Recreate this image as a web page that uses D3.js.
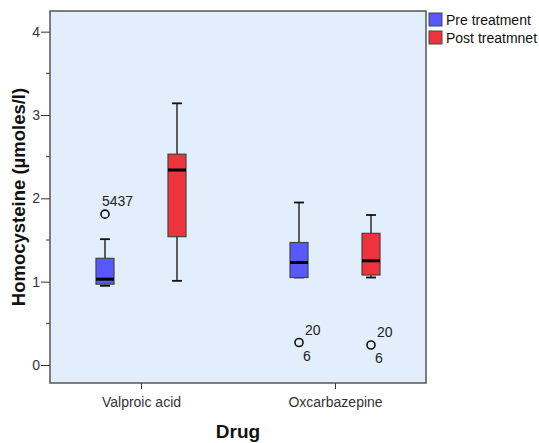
<!DOCTYPE html>
<html>
<head>
<meta charset="utf-8">
<script src="https://cdn.jsdelivr.net/npm/d3@7"></script>
<style>
  body { margin: 0; background: #fff; }
  text { font-family: "Liberation Sans", Arial, sans-serif; }
</style>
</head>
<body>
<svg id="chart" width="539" height="443"></svg>
<script>
// chart data
const drugs = ['Valproic acid', 'Oxcarbazepine']
const groups = ['Pre treatment', 'Post treatmnet']
const groupColors = ['#5858ff', '#f0323c']
// [whiskerLow, q1, median, q3, whiskerHigh] per drug, per group
const preStats = [[0.95, 0.97, 1.03, 1.28, 1.51], [1.05, 1.05, 1.23, 1.47, 1.95]]
const postStats = [[1.01, 1.54, 2.34, 2.53, 3.14], [1.05, 1.08, 1.25, 1.58, 1.80]]
// outliers: [drugIndex, groupIndex, value, labelAbove, labelBelow]
const outliers = [
    [0, 0, 1.81, '5437', ''],
    [1, 0, 0.27, '20', '6'],
    [1, 1, 0.24, '20', '6']
]
const yTicks = [0, 1, 2, 3, 4]
const yMinorTicks = [0.5, 1.5, 2.5, 3.5]

const plot = { left: 50, right: 426, top: 11, bottom: 383 }
const svg = d3.select('#chart')

const xScale = d3.scalePoint()
    .domain(drugs)
    .range([plot.left, plot.right])
    .padding(0.469)

const yScale = d3.scaleLinear()
    .domain([-0.216, 4.248])
    .range([plot.bottom, plot.top])

const offset = d3.scalePoint().domain(groups).range([-36, 36])
const boxW = 18

// plot background
svg.append('rect')
    .attr('x', plot.left).attr('y', plot.top)
    .attr('width', plot.right - plot.left).attr('height', plot.bottom - plot.top)
    .attr('fill', '#e2eefb')

// y axis
const yAxis = d3.axisLeft(yScale).tickValues(yTicks).tickSize(9).tickFormat(d3.format('d'))
const gy = svg.append('g')
    .attr('transform', 'translate(' + plot.left + ',0)')
    .call(yAxis)
gy.select('.domain').remove()
gy.selectAll('line').attr('stroke', '#333')
gy.selectAll('text').attr('fill', '#333').style('font-size', '14px').attr('x', -10)

svg.append('g').selectAll('line')
    .data(yMinorTicks)
    .join('line')
    .attr('x1', plot.left - 4).attr('x2', plot.left)
    .attr('y1', d => yScale(d)).attr('y2', d => yScale(d))
    .attr('stroke', '#333')

// x axis
const xAxis = d3.axisBottom(xScale).tickSize(6)
const gx = svg.append('g')
    .attr('transform', 'translate(0,' + plot.bottom + ')')
    .call(xAxis)
gx.select('.domain').remove()
gx.selectAll('line').attr('stroke', '#333')
gx.selectAll('text').attr('fill', '#333').style('font-size', '14px').attr('y', 14)

// boxes
const boxData = []
drugs.forEach((d, i) => {
    boxData.push({ drug: d, group: groups[0], color: groupColors[0], s: preStats[i] })
    boxData.push({ drug: d, group: groups[1], color: groupColors[1], s: postStats[i] })
})

const boxes = svg.append('g').selectAll('g')
    .data(boxData)
    .join('g')
    .attr('transform', d => 'translate(' + (xScale(d.drug) + offset(d.group)) + ',0)')

boxes.append('line')
    .attr('x1', 0).attr('x2', 0)
    .attr('y1', d => yScale(d.s[0])).attr('y2', d => yScale(d.s[4]))
    .attr('stroke', '#111').attr('stroke-width', 1.3)
boxes.append('line')
    .attr('x1', -5).attr('x2', 5)
    .attr('y1', d => yScale(d.s[4])).attr('y2', d => yScale(d.s[4]))
    .attr('stroke', '#111').attr('stroke-width', 1.8)
boxes.append('line')
    .attr('x1', -5).attr('x2', 5)
    .attr('y1', d => yScale(d.s[0])).attr('y2', d => yScale(d.s[0]))
    .attr('stroke', '#111').attr('stroke-width', 1.8)
boxes.append('rect')
    .attr('x', -boxW / 2).attr('width', boxW)
    .attr('y', d => yScale(d.s[3]))
    .attr('height', d => yScale(d.s[1]) - yScale(d.s[3]))
    .attr('fill', d => d.color)
    .attr('stroke', '#444').attr('stroke-width', 1.2)
boxes.append('line')
    .attr('x1', -boxW / 2).attr('x2', boxW / 2)
    .attr('y1', d => yScale(d.s[2])).attr('y2', d => yScale(d.s[2]))
    .attr('stroke', '#000').attr('stroke-width', 3)

// outliers
const outs = svg.append('g').selectAll('g')
    .data(outliers)
    .join('g')
    .attr('transform', d => 'translate(' + (xScale(drugs[d[0]]) + offset(groups[d[1]])) + ',' + yScale(d[2]) + ')')
outs.append('circle')
    .attr('r', 4)
    .attr('fill', 'none')
    .attr('stroke', '#111').attr('stroke-width', 1.6)
outs.append('text')
    .attr('x', d => d[3].length > 2 ? -3 : 6).attr('y', -8)
    .attr('fill', '#222').style('font-size', '14px')
    .text(d => d[3])
outs.append('text')
    .attr('x', 4).attr('y', 18)
    .attr('fill', '#222').style('font-size', '14px')
    .text(d => d[4])

// frame
svg.append('rect')
    .attr('x', plot.left).attr('y', plot.top)
    .attr('width', plot.right - plot.left).attr('height', plot.bottom - plot.top)
    .attr('fill', 'none')
    .attr('stroke', '#555').attr('stroke-width', 1.5)

// axis titles
svg.append('text')
    .attr('x', (plot.left + plot.right) / 2).attr('y', 438)
    .attr('text-anchor', 'middle')
    .style('font-size', '19px').style('font-weight', 'bold')
    .attr('fill', '#111')
    .text('Drug')

svg.append('text')
    .attr('transform', 'translate(25,197) rotate(-90)')
    .attr('text-anchor', 'middle')
    .style('font-size', '18.5px').style('font-weight', 'bold')
    .attr('fill', '#111')
    .text('Homocysteine (µmoles/l)')

// legend
const legend = svg.append('g').selectAll('g')
    .data(groups)
    .join('g')
    .attr('transform', (d, i) => 'translate(429,' + (13 + i * 18) + ')')
legend.append('rect')
    .attr('width', 13).attr('height', 13)
    .attr('fill', (d, i) => groupColors[i])
    .attr('stroke', '#444').attr('stroke-width', 1)
legend.append('text')
    .attr('x', 17).attr('y', 12)
    .attr('fill', '#111').style('font-size', '14px')
    .text(d => d)
</script>
</body>
</html>
